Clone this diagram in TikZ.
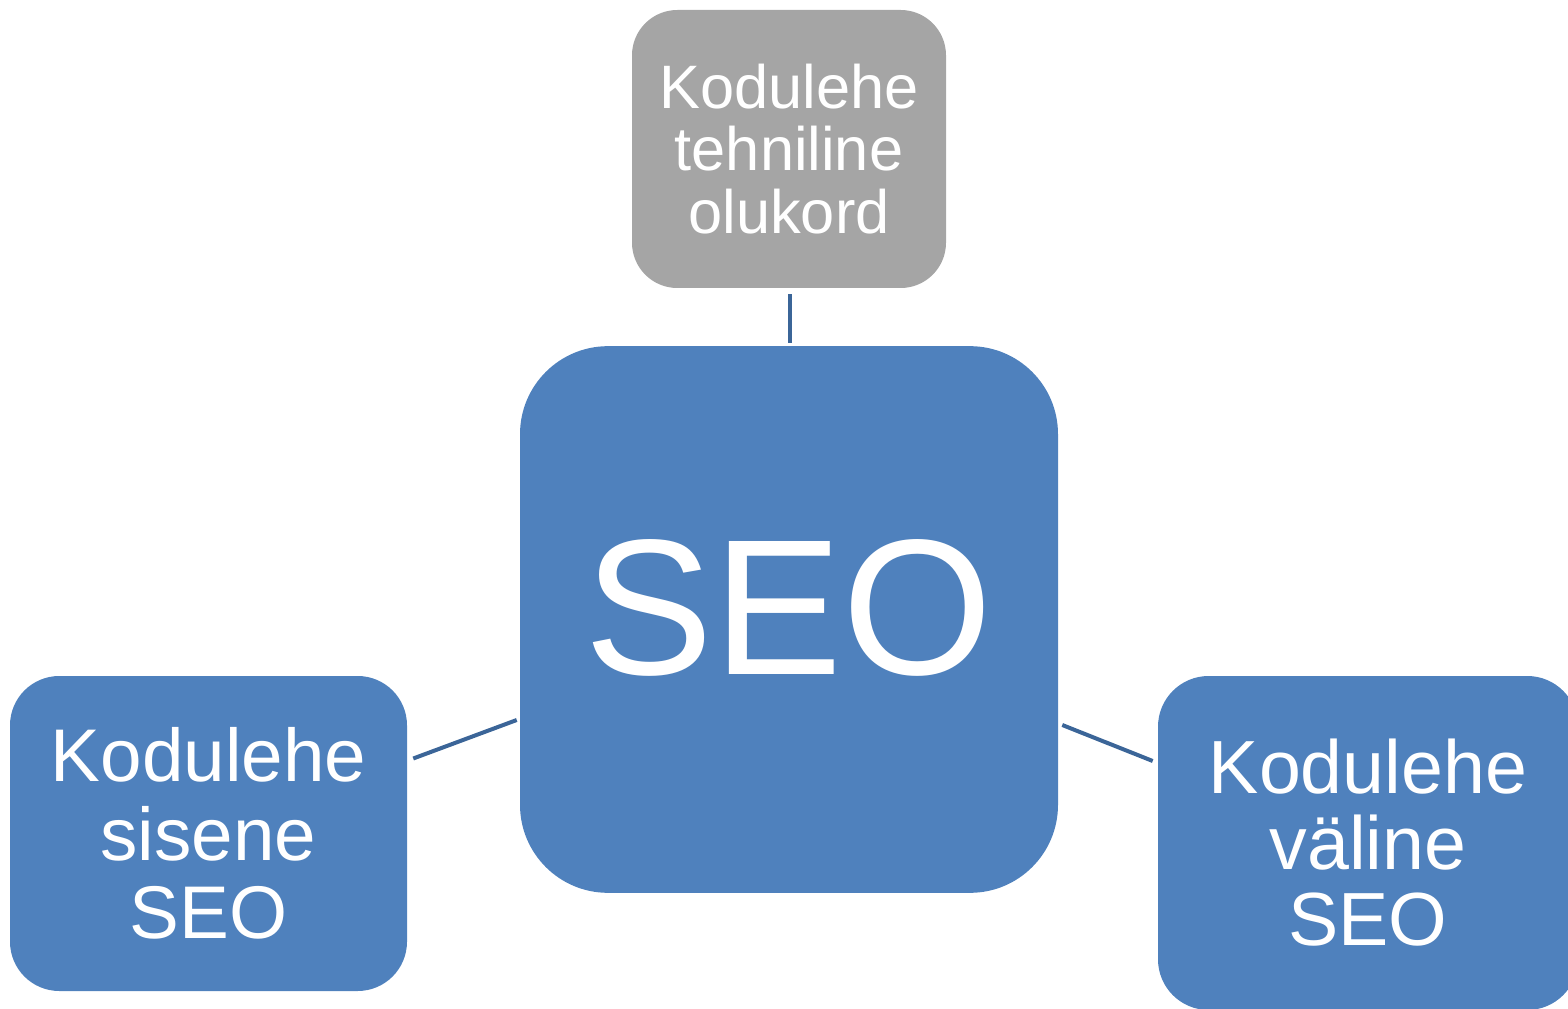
\documentclass[tikz,border=0pt]{standalone}
\usepackage{fontspec}
\setmainfont{Liberation Sans}
\usepackage{tikz}
\usetikzlibrary{calc}
\definecolor{boxblue}{HTML}{4F81BD}
\definecolor{boxgray}{HTML}{A5A5A5}
\definecolor{linkblue}{HTML}{3B6598}
\tikzset{
    x=0.75pt, y=-0.75pt, % one unit is one pixel of the reference
    box/.style={fill=boxblue, text=white, inner sep=0pt, align=center}, % sets the look of each box
    link/.style={draw=linkblue, line width=3pt}, % the plain connectors
}
\begin{document}
\begin{tikzpicture}
    \useasboundingbox (0,0) rectangle (1568,1009);
    \clip (0,0) rectangle (1568,1009);
    \node[box, minimum width=403.5pt, minimum height=410pt, rounded corners=66pt, text depth=18pt,
          font=\fontsize{145}{150}\selectfont] (seo) at (789,619.5) {SEO};
    \node[box, fill=boxgray, minimum width=235.5pt, minimum height=208.5pt, rounded corners=34pt,
          font=\fontsize{46}{47}\selectfont] (tech) at (789,149) {Kodulehe\\tehniline\\olukord};
    \node[box, minimum width=297.75pt, minimum height=236.25pt, rounded corners=37pt,
          font=\fontsize{56}{59}\selectfont] (inner) at (208.5,833.5) {Kodulehe\\sisene\\SEO};
    \node[box, minimum width=315pt, minimum height=250.5pt, rounded corners=38pt,
          font=\fontsize{56.5}{57}\selectfont] (outer) at (1368,843) {Kodulehe\\väline\\SEO};
    \draw[link] ($(tech.south)+(1,6)$) -- ($(seo.north)+(1,-3)$);
    \draw[link] ($(inner.east)+(6,-75)$) -- ($(seo.west)+(-3,100.5)$);
    \draw[link] ($(seo.east)+(4,105.5)$) -- ($(outer.west)+(-5,-82)$);
\end{tikzpicture}
\end{document}
